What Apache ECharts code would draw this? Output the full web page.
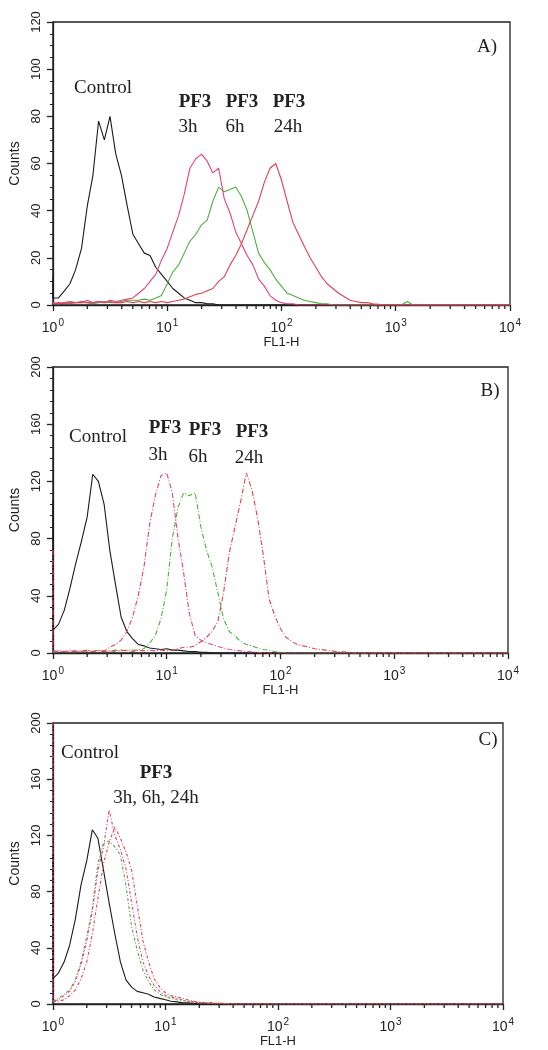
<!DOCTYPE html>
<html><head><meta charset="utf-8">
<script src="https://cdn.jsdelivr.net/npm/echarts@6/dist/echarts.min.js"></script>
<style>html,body{margin:0;padding:0;background:#fff}#c{width:548px;height:1050px}</style>
</head><body><div id="c"></div>
<script>
// FL1-H bin positions (log scale, 0.05-decade steps)
const fl1 = [
  1, 1.12, 1.26, 1.41, 1.58, 1.78, 2.00, 2.24, 2.51, 2.82,
  3.16, 3.55, 3.98, 4.47, 5.01, 5.62, 6.31, 7.08, 7.94, 8.91,
  10.0, 11.2, 12.6, 14.1, 15.8, 17.8, 20.0, 22.4, 25.1, 28.2,
  31.6, 35.5, 39.8, 44.7, 50.1, 56.2, 63.1, 70.8, 79.4, 89.1,
  100, 112, 126, 141, 158, 178, 200, 224, 251, 282,
  316, 355, 398, 447, 501, 562, 631, 708, 794, 891,
  1000, 1122, 1259, 1413, 1585, 2512, 3981, 6310, 10000
];
const xMajorTicks = [1, 10, 100, 1000, 10000];
const minorMultipliers = [2, 3, 4, 5, 6, 7, 8, 9];

// Panel A counts
const aControl = [
  3, 3, 6, 9, 15, 24, 42, 55, 78, 70,
  80, 64, 55, 42, 30, 26, 22, 21, 16, 13,
  10, 7, 5, 3, 2, 1, 1, 0.5, 0.5, 0,
  0, 0, 0, 0, 0, 0, 0, 0, 0, 0,
  0, 0, 0, 0, 0, 0, 0, 0, 0, 0,
  0, 0, 0, 0, 0, 0, 0, 0, 0, 0,
  0, 0, 0, 0, 0, 0, 0, 0, 0
];
const a3h = [
  1, 0.5, 1, 1.5, 1, 1, 2, 1, 1.5, 1,
  2, 1.5, 2, 2.5, 3, 5, 7, 10, 13, 19,
  24, 31, 38, 47, 58, 62, 64, 61, 56, 58,
  45, 39, 31, 26, 21, 17, 11, 8, 4, 2,
  1, 0.5, 0.5, 0, 0, 0, 0, 0, 0, 0,
  0, 0, 0, 0, 0, 0, 0, 0, 0, 0,
  0, 0, 0, 0, 0, 0, 0, 0, 0
];
const a6h = [
  0.5, 0.5, 1, 0.5, 1, 1, 1, 0.5, 1, 1.5,
  1, 1, 1.5, 2, 2, 2, 2.5, 2, 3, 4,
  9, 14, 17, 22, 27, 30, 34, 36, 44, 50,
  48, 49, 50, 46, 40, 31, 22, 18, 15, 11,
  8, 5, 4, 3, 2, 1.5, 1, 0.5, 0.5, 0,
  0, 0, 0, 0, 0, 0, 0, 0, 0, 0,
  0, 0, 1.5, 0, 0, 0, 0, 0, 0
];
const a24h = [
  0.5, 1, 0.5, 1, 1, 1.5, 1, 1, 1.5, 1,
  1.5, 1, 1, 1.5, 1, 1.5, 1, 1.5, 1, 1.5,
  1, 1.5, 2, 2.5, 3.5, 4.5, 5, 6, 7, 10,
  12, 17, 21, 26, 32, 38, 44, 52, 58, 60,
  53, 44, 35, 30, 25, 20, 16, 12, 9, 7,
  5, 3.5, 2, 1.5, 1, 1, 0.5, 0.3, 0, 0,
  0, 0, 0, 0, 0, 0, 0, 0, 0
];
// Panel B counts
const bControl = [
  16, 20, 30, 45, 62, 78, 95, 125, 120, 104,
  72, 48, 25, 15, 10, 6, 5, 3.5, 3, 2.5,
  3, 2, 2, 1.5, 1, 1, 0.5, 0.5, 0, 0,
  0, 0, 0, 0, 0, 0, 0, 0, 0, 0,
  0, 0, 0, 0, 0, 0, 0, 0, 0, 0,
  0, 0, 0, 0, 0, 0, 0, 0, 0, 0,
  0, 0, 0, 0, 0, 0, 0, 0, 0
];
const b3h = [
  1, 1.5, 1, 2, 1, 1.5, 2, 1, 2, 1.5,
  4, 6, 9, 15, 25, 40, 60, 90, 110, 124,
  126, 112, 80, 56, 28, 12, 9, 7, 6, 4.5,
  3.5, 2.5, 2, 1.5, 1, 0.8, 0.5, 0, 0, 0,
  0, 0, 0, 0, 0, 0, 0, 0, 0, 0,
  0, 0, 0, 0, 0, 0, 0, 0, 0, 0,
  0, 0, 0, 0, 0, 0, 0, 0, 0
];
const b6h = [
  0.5, 1, 1, 0.5, 1, 1.5, 1, 1, 2, 1,
  1.5, 2, 1.5, 2, 2, 2, 3, 7, 12, 24,
  44, 80, 102, 112, 110, 112, 88, 72, 60, 42,
  24, 15, 12, 8, 6, 5, 3.5, 2.5, 2, 1,
  0.5, 0, 0, 0, 0, 0, 0, 0, 0, 0,
  0, 0, 0, 0, 0, 0, 0, 0, 0, 0,
  0, 0, 0, 0, 0, 0, 0, 0, 0
];
const b24h = [
  1, 1.5, 1, 1, 1.5, 1, 2, 1, 1.5, 1,
  1.5, 1, 2, 1.5, 1, 2, 1.5, 2, 1.5, 2,
  1.5, 2, 3, 4, 4, 5, 8, 11, 15, 22,
  42, 70, 88, 106, 126, 114, 94, 68, 38, 26,
  17, 11, 8, 6, 5, 4, 3, 2.5, 2, 1.5,
  1, 0.8, 0.5, 0, 0, 0, 0, 0, 0, 0,
  0, 0, 0, 0, 0, 0, 0, 0, 0
];
// Panel C counts
const cControl = [
  18, 22, 30, 42, 60, 85, 102, 124, 118, 95,
  72, 50, 30, 17, 12, 9, 8, 7, 5, 4,
  3, 2, 1.5, 1, 0.8, 0.5, 0, 0, 0, 0,
  0, 0, 0, 0, 0, 0, 0, 0, 0, 0,
  0, 0, 0, 0, 0, 0, 0, 0, 0, 0,
  0, 0, 0, 0, 0, 0, 0, 0, 0, 0,
  0, 0, 0, 0, 0, 0, 0, 0, 0
];
const c3h = [
  2, 3, 6, 9, 16, 28, 45, 66, 95, 112,
  138, 120, 110, 96, 72, 48, 30, 20, 13, 9,
  6, 5, 4, 3, 2, 1.5, 1, 1, 0.5, 0.5,
  0.5, 0.3, 0, 0, 0, 0, 0, 0, 0, 0,
  0, 0, 0, 0, 0, 0, 0, 0, 0, 0,
  0, 0, 0, 0, 0, 0, 0, 0, 0, 0,
  0, 0, 0, 0, 0, 0, 0, 0, 0
];
const c6h = [
  2, 4, 7, 10, 17, 30, 48, 68, 100, 115,
  116, 112, 106, 84, 55, 38, 24, 16, 10, 7,
  5, 4, 3, 2.5, 2, 1.5, 1, 0.5, 0.5, 0.5,
  0.3, 0, 0, 0, 0, 0, 0, 0, 0, 0,
  0, 0, 0, 0, 0, 0, 0, 0, 0, 0,
  0, 0, 0, 0, 0, 0, 0, 0, 0, 0,
  0, 0, 0, 0, 0, 0, 0, 0, 0
];
const c24h = [
  1.5, 2, 3, 6, 10, 18, 30, 50, 75, 100,
  115, 126, 118, 108, 95, 70, 45, 30, 18, 12,
  8, 6, 5, 4, 3, 2, 1.5, 1, 1, 0.5,
  0.5, 0.3, 0, 0, 0, 0, 0, 0, 0, 0,
  0, 0, 0, 0, 0, 0, 0, 0, 0, 0,
  0, 0, 0, 0, 0, 0, 0, 0, 0, 0,
  0, 0, 0, 0, 0, 0, 0, 0, 0
];
// first-channel pile-up counts at FL1-H = 1
const aControlEdge = 12;
const bControlEdge = 107, b24hEdge = 72;
const cControlEdge = 107, c3hEdge = 200;

const yMax = [120, 200, 200];
const yInterval = [20, 40, 40];
const yMinorSplit = [4, 5, 5];

const COL = { control: '#1a1a1a', h3: '#e6407e', h6: '#4fae3e', h24: '#e0434e' };
const SANS = 'Liberation Sans, Arial, sans-serif';
const SERIF = 'Liberation Serif, Times New Roman, serif';

const grids = [
  { left: 50, top: 22, width: 460, height: 283 },
  { left: 50, top: 367, width: 458, height: 286 },
  { left: 52, top: 723, width: 451, height: 281 }
];

const minorValues = [];
xMajorTicks.slice(0, -1).forEach(d => minorMultipliers.forEach(m => minorValues.push(d * m)));

function xAxis(i) {
  return {
    gridIndex: i, type: 'log', logBase: 10, min: 1, max: 10000, splitNumber: 4,
    axisLine: { show: true, lineStyle: { color: '#222', width: 1.3 } },
    axisTick: { show: true, length: 6, lineStyle: { color: '#222', width: 1.3 } },
    splitLine: { show: false },
    axisLabel: {
      margin: 10, color: '#222',
      formatter: v => '{b|10}{s|' + Math.round(Math.log10(v)) + '}',
      rich: {
        b: { fontSize: 14, fontFamily: SANS, color: '#222', verticalAlign: 'bottom', lineHeight: 20 },
        s: { fontSize: 10, fontFamily: SANS, color: '#222', verticalAlign: 'bottom', lineHeight: 20, padding: [0, 0, 7, 1] }
      }
    },
    name: 'FL1-H', nameLocation: 'middle', nameGap: [24, 26, 27][i],
    nameTextStyle: { fontSize: 13, fontFamily: SANS, color: '#222' }
  };
}
function yAxis(i) {
  return {
    gridIndex: i, type: 'value', min: 0, max: yMax[i], interval: yInterval[i],
    axisLine: { show: true, lineStyle: { color: '#222', width: 1.3 } },
    axisTick: { show: true, length: 6, lineStyle: { color: '#222', width: 1.3 } },
    minorTick: { show: true, splitNumber: yMinorSplit[i], length: 3, lineStyle: { color: '#222', width: 1 } },
    splitLine: { show: false },
    axisLabel: { rotate: 90, margin: 10, fontSize: 13, fontFamily: SANS, color: '#222' },
    name: 'Counts', nameLocation: 'middle', nameGap: 25,
    nameTextStyle: { fontSize: 14, fontFamily: SANS, color: '#222' }
  };
}

function histo(i, name, counts, color, dash, edge) {
  const data = (edge != null ? [[1, edge]] : []).concat(fl1.map((x, k) => [x, counts[k]]));
  return {
    type: 'line', name, xAxisIndex: i, yAxisIndex: i, data,
    showSymbol: false, symbol: 'none', animation: false, silent: true,
    lineStyle: { color, width: 1.1, type: dash || 'solid' }
  };
}
function minorTicks(i) {
  return {
    type: 'custom', xAxisIndex: i, yAxisIndex: i, silent: true, animation: false, clip: false,
    data: minorValues.map(v => [v, 0]),
    renderItem: (p, api) => {
      const c = api.coord([api.value(0), 0]);
      return { type: 'line', shape: { x1: c[0], y1: c[1], x2: c[0], y2: c[1] + 4 },
               style: { stroke: '#222', lineWidth: 1.3 } };
    }
  };
}

const dashB = [5, 2, 1, 2];
const dashC = [3, 2, 1, 2];

const series = [
  histo(0, 'Control', aControl, COL.control, null, aControlEdge),
  histo(0, 'PF3 6h', a6h, COL.h6),
  histo(0, 'PF3 24h', a24h, COL.h24),
  histo(0, 'PF3 3h', a3h, COL.h3),
  histo(1, 'Control', bControl, COL.control, null, bControlEdge),
  histo(1, 'PF3 6h', b6h, COL.h6, dashB),
  histo(1, 'PF3 24h', b24h, COL.h24, dashB, b24hEdge),
  histo(1, 'PF3 3h', b3h, COL.h3, dashB),
  histo(2, 'Control', cControl, COL.control, null, cControlEdge),
  histo(2, 'PF3 6h', c6h, COL.h6, dashC),
  histo(2, 'PF3 24h', c24h, COL.h24, dashC),
  histo(2, 'PF3 3h', c3h, COL.h3, dashC, c3hEdge),
  minorTicks(0), minorTicks(1), minorTicks(2)
];

function txt(text, x, y, bold) {
  return { type: 'text', x, y, silent: true, z: 100,
    style: { text, fill: '#222', font: (bold ? 'bold ' : '') + '19px ' + SERIF,
             textAlign: 'center', textVerticalAlign: 'middle', align: 'center', verticalAlign: 'middle' } };
}
const graphic = [
  txt('A)', 487, 47), txt('Control', 103, 88),
  txt('PF3', 195, 102, true), txt('3h', 188, 127),
  txt('PF3', 242, 102, true), txt('6h', 235, 127),
  txt('PF3', 289, 102, true), txt('24h', 288, 127),
  txt('B)', 490, 391), txt('Control', 98, 437),
  txt('PF3', 165, 428, true), txt('3h', 158, 455),
  txt('PF3', 205, 430, true), txt('6h', 198, 457),
  txt('PF3', 252, 432, true), txt('24h', 249, 458),
  txt('C)', 488, 740), txt('Control', 90, 753),
  txt('PF3', 156, 773, true), txt('3h, 6h, 24h', 156, 798)
];

const chart = echarts.init(document.getElementById('c'), null, { renderer: 'canvas' });
chart.setOption({
  animation: false,
  backgroundColor: '#fff',
  grid: grids.map(g => Object.assign({ show: true, borderColor: '#222', borderWidth: 1.3, backgroundColor: 'transparent' }, g)),
  xAxis: [0, 1, 2].map(xAxis),
  yAxis: [0, 1, 2].map(yAxis),
  series,
  graphic
});
</script></body></html>
